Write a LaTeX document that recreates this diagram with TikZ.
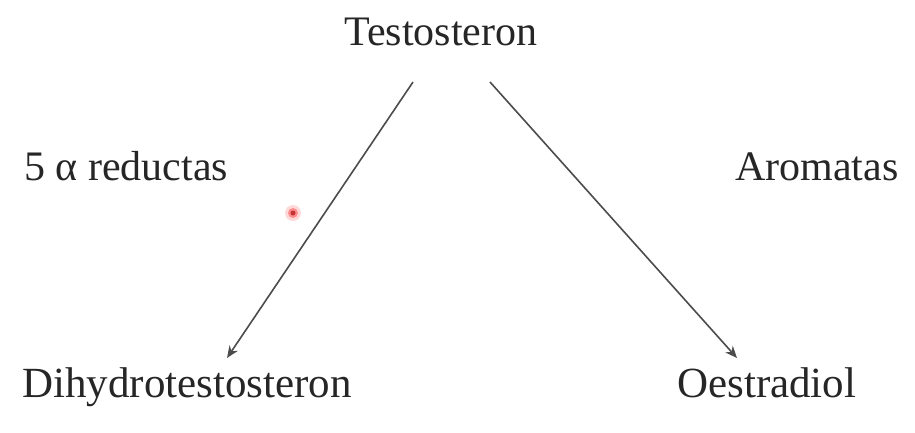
\documentclass[tikz,border=0pt]{standalone}
\usepackage{fontspec}
\setmainfont{Liberation Serif}
\usetikzlibrary{arrows.meta}
\begin{document}
\begin{tikzpicture}[x=1pt,y=-1pt,
  lbl/.style={font=\fontsize{42}{50}\selectfont, text=black!85, inner sep=0pt, anchor=base},
  blbl/.style={lbl, font=\fontsize{43}{50}\selectfont},
  conn/.style={draw=black!70, line width=1.6pt, -{Stealth[length=12pt,width=10pt]}}]
\useasboundingbox[fill=white] (0,0) rectangle (915,432);
\node[lbl] (T) at (441,45) {Testosteron};
\node[lbl, anchor=base west] (R) at (24,180) {5 α reductas};
\node[lbl, anchor=base west] (A) at (735,180) {Aromatas};
\node[blbl, anchor=base west] (D) at (22,397) {Dihydrotestosteron};
\node[blbl, anchor=base west] (O) at (677,397) {Oestradiol};
\coordinate (t1) at (413,82);
\coordinate (d1) at (227,358);
\coordinate (t2) at (490,82);
\coordinate (o1) at (737,358);
\draw[conn] (t1) -- (d1);
\draw[conn] (t2) -- (o1);
\fill[red!15] (293,213) circle (8);
\fill[red!45] (293,213) circle (5);
\fill[red!70!black!80] (293,213) circle (2.5);
\end{tikzpicture}
\end{document}
